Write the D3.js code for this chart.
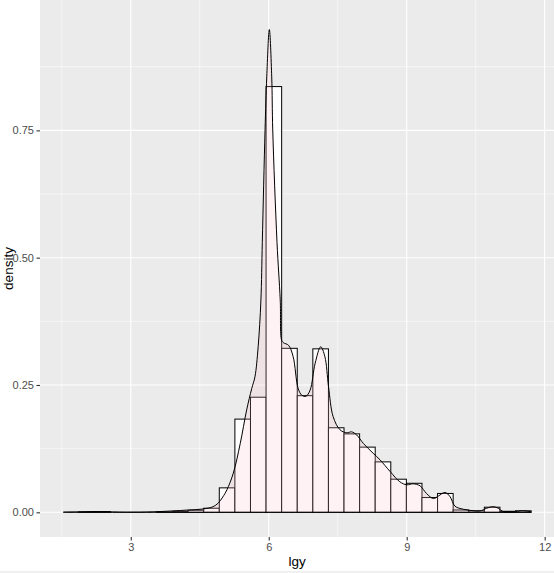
<!DOCTYPE html>
<html lang="en">
<head>
	<meta charset="UTF-8">
	<title>Density of lgy</title>
	<script src="https://cdn.jsdelivr.net/npm/d3@7"></script>
	<style>
		html,body{
			margin:0;
			padding:0;
			background:#fff;
		}
		svg{
			display:block;
			font-family:"Liberation Sans", Arial, sans-serif;
		}
	</style>
</head>
<body>
	<svg id="svg" width="554" height="573"></svg>
	<script>
		// histogram bins (edges) and their densities
		var binEdges = [1.535,1.874,2.213,2.552,2.891,3.230,3.569,3.908,4.247,4.586,
			4.925,5.264,5.603,5.942,6.281,6.620,6.959,7.298,7.637,7.976,
			8.315,8.654,8.993,9.332,9.671,10.010,10.349,10.688,11.027,11.366,11.705]
		var binDensity = [0,0.0008,0.0015,0,0,0,0.0008,0.002,0.004,0.008,
			0.048,0.183,0.226,0.836,0.322,0.229,0.321,0.166,0.154,0.128,
			0.099,0.065,0.057,0.029,0.037,0.0045,0.003,0.010,0.002,0.003]

		// kernel density curve
		var densX = [1.535,1.8,2.0,2.2,2.4,2.6,2.9,3.2,3.5,3.9,4.25,4.57,4.79,4.90,5.00,5.09,5.23,5.38,5.52,5.63,
			5.70,5.77,5.83,5.86,5.92,5.957,6.013,6.065,6.087,6.18,6.25,6.28,6.32,6.43,6.53,6.64,6.72,6.81,6.90,7.01,
			7.13,7.22,7.30,7.40,7.55,7.70,7.80,7.91,8.06,8.27,8.42,8.64,8.85,9.00,9.14,9.29,9.43,9.58,9.69,9.83,
			9.94,10.05,10.23,10.45,10.59,10.74,10.88,10.99,11.10,11.32,11.50,11.705]
		var densY = [0.0005,0.0008,0.0012,0.0016,0.0014,0.0008,0.0003,0.0004,0.001,0.0026,0.0045,0.0065,0.011,0.018,0.03,0.044,0.077,0.135,0.201,0.243,
			0.266,0.325,0.417,0.53,0.751,0.855,0.948,0.855,0.751,0.53,0.417,0.338,0.333,0.328,0.306,0.243,0.230,0.228,0.240,0.293,
			0.325,0.306,0.247,0.188,0.162,0.156,0.158,0.152,0.135,0.116,0.103,0.080,0.060,0.054,0.056,0.052,0.037,0.027,0.032,0.039,
			0.031,0.012,0.006,0.003,0.0025,0.008,0.011,0.008,0.001,0.0006,0.003,0.001]

		var xTicks = [3,6,9,12]
		var xMinor = [1.5,4.5,7.5,10.5]
		var yTicks = [0,0.25,0.5,0.75]
		var yMinor = [0.125,0.375,0.625,0.875]

		window.onload = ()=>{
			var svg = d3.select("#svg")
			var pLeft = 40, pRight = 554.5, pTop = 0, pBottom = 537

			var xScale = d3.scaleLinear()
				.domain([1.0265,12.2135])
				.range([pLeft,pRight])
			var yScale = d3.scaleLinear()
				.domain([-0.0485,1.006])
				.range([pBottom,pTop])

			// panel
			svg.append("rect")
				.attr("x",pLeft).attr("y",pTop)
				.attr("width",pRight-pLeft).attr("height",pBottom-pTop)
				.attr("fill","#EBEBEB")

			var grid = svg.append("g")
			grid.selectAll(".xmin").data(xMinor).enter().append("line")
				.attr("x1",d=>xScale(d)).attr("x2",d=>xScale(d))
				.attr("y1",pTop).attr("y2",pBottom)
				.attr("stroke","#fff").attr("stroke-width",0.55)
			grid.selectAll(".ymin").data(yMinor).enter().append("line")
				.attr("y1",d=>yScale(d)).attr("y2",d=>yScale(d))
				.attr("x1",pLeft).attr("x2",pRight)
				.attr("stroke","#fff").attr("stroke-width",0.55)
			grid.selectAll(".xmaj").data(xTicks).enter().append("line")
				.attr("x1",d=>xScale(d)).attr("x2",d=>xScale(d))
				.attr("y1",pTop).attr("y2",pBottom)
				.attr("stroke","#fff").attr("stroke-width",1.1)
			grid.selectAll(".ymaj").data(yTicks).enter().append("line")
				.attr("y1",d=>yScale(d)).attr("y2",d=>yScale(d))
				.attr("x1",pLeft).attr("x2",pRight)
				.attr("stroke","#fff").attr("stroke-width",1.1)

			// histogram
			svg.append("g").selectAll("rect")
				.data(binDensity)
				.enter().append("rect")
				.attr("x",(d,i)=>xScale(binEdges[i]))
				.attr("width",(d,i)=>xScale(binEdges[i+1])-xScale(binEdges[i]))
				.attr("y",d=>yScale(d))
				.attr("height",d=>yScale(0)-yScale(d))
				.attr("fill","#fff")
				.attr("stroke","#000")
				.attr("stroke-width",1)

			// density
			var dens = densX.map((x,i)=>[x,densY[i]])
			var area = d3.area()
				.x(d=>xScale(d[0]))
				.y0(yScale(0))
				.y1(d=>yScale(d[1]))
				.curve(d3.curveCatmullRom)
			svg.append("path")
				.datum(dens)
				.attr("d",area)
				.attr("fill","pink")
				.attr("fill-opacity",0.2)
				.attr("stroke","#000")
				.attr("stroke-width",1)

			// axes
			var xAxis = svg.append("g")
				.attr("transform","translate(0,"+pBottom+")")
				.call(d3.axisBottom(xScale).tickValues(xTicks).tickSize(3.5).tickPadding(2.5).tickFormat(d3.format("d")))
			var yAxis = svg.append("g")
				.attr("transform","translate("+pLeft+",0)")
				.call(d3.axisLeft(yScale).tickValues(yTicks).tickSize(3.5).tickPadding(2.5).tickFormat(d3.format(".2f")))
			;[xAxis,yAxis].forEach(a=>{
				a.select(".domain").remove()
				a.selectAll(".tick line").attr("stroke","#333").attr("stroke-width",1.1)
				a.selectAll(".tick text").attr("fill","#4D4D4D").style("font-size","11px")
					.style("font-family","'Liberation Sans', Arial, sans-serif")
			})

			svg.append("text")
				.attr("x",(pLeft+pRight)/2).attr("y",566)
				.attr("text-anchor","middle")
				.style("font-size","13.5px")
				.text("lgy")
			svg.append("text")
				.attr("transform","translate(13,"+((pTop+pBottom)/2)+") rotate(-90)")
				.attr("text-anchor","middle")
				.style("font-size","13.5px")
				.text("density")

			svg.append("rect")
				.attr("x",0).attr("y",571).attr("width",554).attr("height",2)
				.attr("fill","#f0f0f0")
		}
	</script>
</body>
</html>
